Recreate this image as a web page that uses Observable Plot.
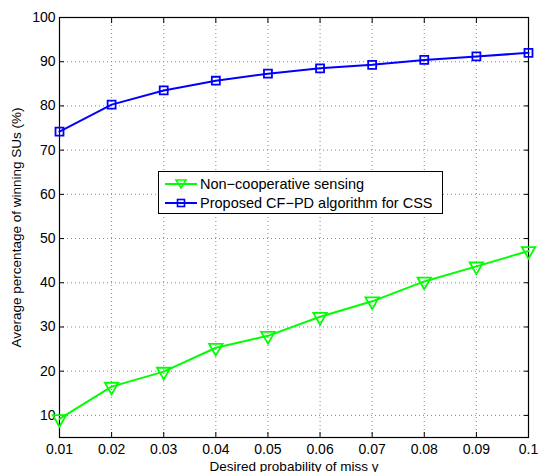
<!DOCTYPE html>
<html><head><meta charset="utf-8">
<script src="https://cdn.jsdelivr.net/npm/d3@7"></script>
<script src="https://cdn.jsdelivr.net/npm/@observablehq/plot@0.6"></script>
<style>
body{margin:0;background:#fff;font-family:"Liberation Sans",Arial,sans-serif;}
#wrap{position:relative;width:539px;height:472px;}
#legend{position:absolute;left:158px;top:171px;width:285px;height:43px;border:1px solid #000;background:#fff;font-size:14.5px;box-sizing:border-box;}
#legend .row{position:absolute;left:0;height:19px;display:flex;align-items:center;}
#legend svg{margin-left:6px;margin-right:3px;}
</style></head>
<body><div id="wrap"><div id="chart"></div><div id="legend"></div></div>
<script>
const gamma = [0.01,0.02,0.03,0.04,0.05,0.06,0.07,0.08,0.09,0.1];
const nonCoop = [9.2,16.5,19.9,25.3,28.0,32.3,35.8,40.3,43.7,47.2];
const proposed = [74.2,80.3,83.5,85.7,87.3,88.5,89.3,90.4,91.2,92.0];
const xTicks = [0.01,0.02,0.03,0.04,0.05,0.06,0.07,0.08,0.09,0.1];
const yTicks = [10,20,30,40,50,60,70,80,90,100];
const seriesNames = ["Non\u2212cooperative sensing","Proposed CF\u2212PD algorithm for CSS"];
const colors = ["#00ff00","#0000ff"];

const nc = gamma.map((g,i)=>({g, v: nonCoop[i]}));
const pr = gamma.map((g,i)=>({g, v: proposed[i]}));
const fmtX = d => d === 0.1 ? "0.1" : d3.format(".2f")(d);

const chart = Plot.plot({
  width: 539, height: 472,
  marginTop: 17, marginBottom: 35, marginLeft: 59, marginRight: 11,
  style: {fontFamily: '"Liberation Sans", Arial, sans-serif', fontSize: "14px", color: "#000", background: "#fff"},
  x: {domain: [0.01, 0.1], ticks: xTicks},
  y: {domain: [5, 100], ticks: yTicks},
  marks: [
    Plot.gridX(xTicks, {stroke: "#888", strokeOpacity: 1, strokeDasharray: "1,3"}),
    Plot.gridY(yTicks, {stroke: "#888", strokeOpacity: 1, strokeDasharray: "1,3"}),
    Plot.axisX(xTicks, {anchor: "bottom", tickSize: -5, tickPadding: 12, tickFormat: fmtX, label: null, fontSize: 14}),
    Plot.axisX(xTicks, {anchor: "bottom", tickSize: 0, tickFormat: () => "", label: "Desired probability of miss \u03b3", labelAnchor: "center", labelOffset: 33, labelArrow: "none", fontSize: 13.5}),
    Plot.axisX(xTicks, {anchor: "top", tickSize: -5, tickFormat: () => "", label: null}),
    Plot.axisY(yTicks, {anchor: "left", tickSize: -5, tickPadding: 9, label: null, fontSize: 14}),
    Plot.axisY(yTicks, {anchor: "left", tickSize: 0, tickFormat: () => "", label: "Average percentage of winning SUs (%)", labelAnchor: "center", labelOffset: 48, labelArrow: "none", fontSize: 13.5}),
    Plot.axisY(yTicks, {anchor: "right", tickSize: -5, tickFormat: () => "", label: null}),
    Plot.frame({stroke: "#000", strokeWidth: 1.2}),
    Plot.line(nc, {x: "g", y: "v", stroke: colors[0], strokeWidth: 2}),
    Plot.dot(nc, {x: "g", y: "v", stroke: colors[0], symbol: "triangle", rotate: 180, r: 5, strokeWidth: 1.8, fill: "none"}),
    Plot.line(pr, {x: "g", y: "v", stroke: colors[1], strokeWidth: 2}),
    Plot.dot(pr, {x: "g", y: "v", stroke: colors[1], symbol: "square", r: 4.5, strokeWidth: 1.8, fill: "none"})
  ]
});
document.getElementById("chart").appendChild(chart);

const leg = document.getElementById("legend");
const syms = [
  '<svg width="32" height="14"><line x1="0" y1="7" x2="32" y2="7" stroke="#00ff00" stroke-width="2"/><path d="M11,3 L21,3 L16,11 Z" fill="none" stroke="#00ff00" stroke-width="1.6"/></svg>',
  '<svg width="32" height="14"><line x1="0" y1="7" x2="32" y2="7" stroke="#0000ff" stroke-width="2"/><rect x="12.5" y="3.5" width="7" height="7" fill="none" stroke="#0000ff" stroke-width="1.6"/></svg>'
];
seriesNames.forEach((n,i)=>{
  const r = document.createElement("div");
  r.className = "row";
  r.style.top = (2 + i*19) + "px";
  r.innerHTML = syms[i] + "<span>" + n + "</span>";
  leg.appendChild(r);
});
</script></body></html>
